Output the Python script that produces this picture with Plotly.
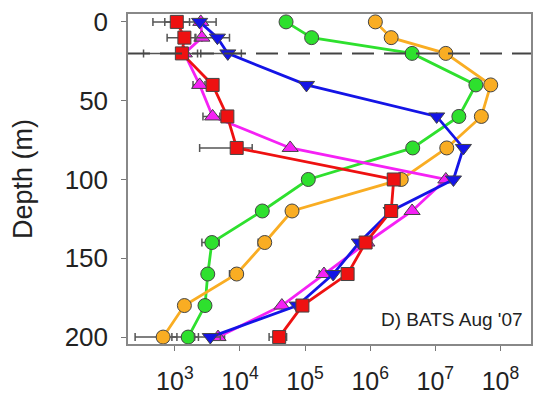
import plotly.graph_objects as go

depth = [0, 10, 20, 40, 60, 80, 100, 120, 140, 160, 180, 200]

green = [5.1e4, 1.26e5, 4.4e6, 4.2e7, 2.3e7, 4.5e6, 1.12e5, 2.2e4, 3.7e3, 3.2e3, 2.9e3, 1.6e3]
green_err = [0, 0, 0, 0, 0, 0, 0, 0, 1100, 0, 0, 700]

orange = [1.2e6, 2.1e6, 1.45e7, 7.1e7, 5.1e7, 1.5e7, 3.0e6, 6.3e4, 2.4e4, 8.9e3, 1.4e3, 6.6e2]
orange_err = [0, 0, 0, 0, 0, 0, 0, 0, 5000, 2000, 0, 415]

blue = [2.4e3, 4.5e3, 6.5e3, 1.05e5, 1.05e7, 2.7e7, 1.9e7, 2.1e6, 6.8e5, 2.7e5, 7.6e4, 3.5e3]
blue_err = [0, 2400, 4000, 0, 0, 0, 0, 0, 0, 0, 0, 1500]

magenta = [2.5e3, 2.6e3, 1.4e3, 2.4e3, 3.8e3, 5.9e4, 1.45e7, 4.4e6, 8.9e5, 1.95e5, 4.4e4, 4.6e3]
magenta_err = [1800, 0, 0, 500, 1100, 0, 0, 0, 0, 3e4, 0, 1200]

red = [1.07e3, 1.4e3, 1.28e3, 3.8e3, 6.4e3, 8.9e3, 2.3e6, 2.1e6, 8.5e5, 4.5e5, 9.1e4, 4.0e4]
red_err = [610, 640, 950, 0, 0, 6500, 0, 0, 0, 0, 0, 1.2e4]

x_tickvals = [1e3, 1e4, 1e5, 1e6, 1e7, 1e8]
x_ticktext = ["10<sup>3</sup>", "10<sup>4</sup>", "10<sup>5</sup>", "10<sup>6</sup>", "10<sup>7</sup>", "10<sup>8</sup>"]
y_tickvals = [0, 50, 100, 150, 200]
mld = 20
label = "D) BATS Aug '07"

FONT = "Liberation Sans, Arial, sans-serif"

series = [
    (green, green_err, "#2ee02e", "circle", 14),
    (orange, orange_err, "#f9ad23", "circle", 14),
    (magenta, magenta_err, "#f521f5", "triangle-up", 14),
    (blue, blue_err, "#1414e6", "triangle-down", 14),
    (red, red_err, "#ee1111", "square", 13),
]

fig = go.Figure()
for vals, err, col, sym, sz in series:
    fig.add_trace(go.Scatter(
        x=vals, y=depth, mode="lines+markers",
        line=dict(color=col, width=2.8),
        marker=dict(symbol=sym, size=sz, color=col, line=dict(color="#444444", width=1)),
        error_x=dict(type="data", array=err, symmetric=True, color="#555555", thickness=1.5, width=4),
        showlegend=False,
    ))

fig.add_shape(type="line", xref="paper", x0=0, x1=1, yref="y", y0=mld, y1=mld,
              line=dict(color="#444444", width=2, dash="22px,10px"))

fig.add_annotation(text=label, xref="paper", x=0.985, xanchor="right", yref="y", y=189,
                   yanchor="middle", showarrow=False, font=dict(family=FONT, size=19, color="#222222"))

fig.update_layout(
    width=540, height=402,
    margin=dict(l=128, r=7, t=11, b=55),
    paper_bgcolor="white", plot_bgcolor="white",
    font=dict(family=FONT, color="#222222"),
)
fig.update_xaxes(type="log", range=[2.28, 8.47], tickvals=x_tickvals, ticktext=x_ticktext,
                 ticks="outside", ticklen=5, tickcolor="#777777", showline=True, linecolor="#888888",
                 linewidth=1.5, mirror=True, showgrid=False, zeroline=False,
                 tickfont=dict(size=25, family=FONT), ticklabelstandoff=9)
fig.update_yaxes(range=[204.4, -5], tickvals=y_tickvals, ticks="outside", ticklen=5,
                 tickcolor="#777777", showline=True, linecolor="#888888", linewidth=1.5, mirror=True,
                 showgrid=False, zeroline=False, tickfont=dict(size=26, family=FONT),
                 ticklabelstandoff=8,
                 title=dict(text="Depth (m)", font=dict(size=27, family=FONT), standoff=24))

fig.write_html("out.html")
